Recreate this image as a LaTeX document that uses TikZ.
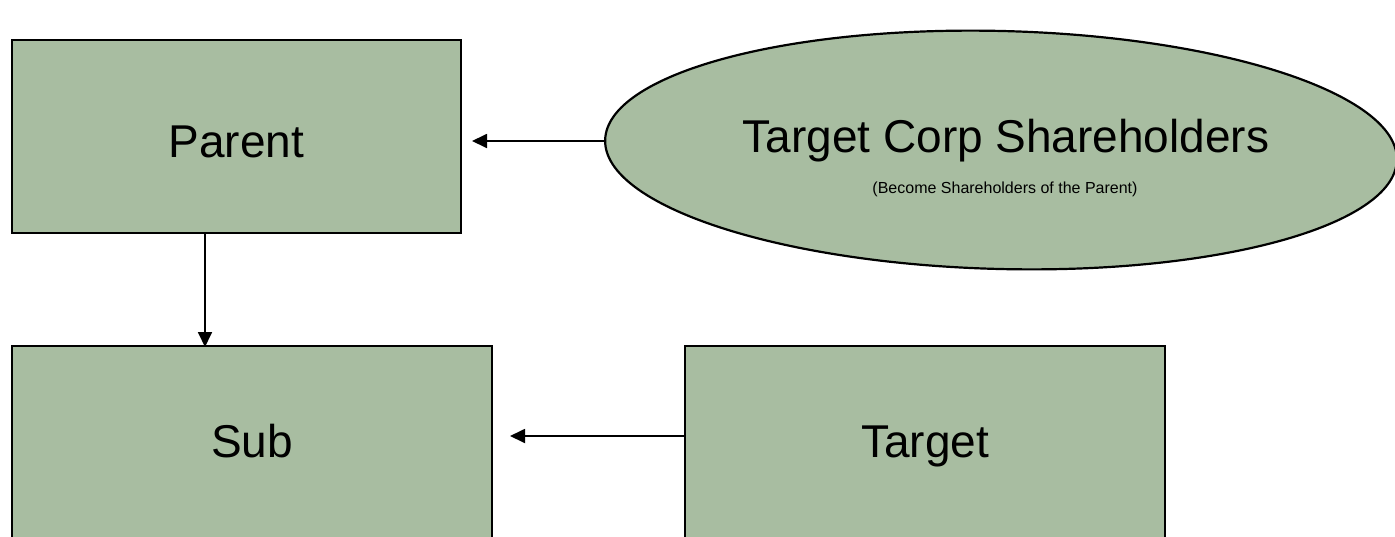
\documentclass[tikz,border=0pt]{standalone}
\usepackage{fontspec}
\setmainfont{Liberation Sans}
\usetikzlibrary{arrows.meta,shapes.geometric}
\definecolor{boxgreen}{RGB}{168,189,161}
\begin{document}
\begin{tikzpicture}[x=1pt,y=-1pt,
  box/.style={draw=black,line width=2.8pt,fill=boxgreen,inner sep=0pt,text depth=0pt,text height=30pt,font=\fontsize{46}{50}\selectfont},
  arr/.style={line width=1.8pt,-{Triangle[length=15pt,width=14pt]}}]
\useasboundingbox (0,0) rectangle (1395,536);
\node[box,minimum width=449pt,minimum height=193pt,text height=42pt] (parent) at (236.5,136.5) {Parent};
\node[box,minimum width=480pt,minimum height=192pt] (sub) at (252,442) {Sub};
\node[box,minimum width=480pt,minimum height=192pt] (target) at (925,442) {Target};
\node[ellipse,draw=black,line width=2.2pt,fill=boxgreen,minimum width=792pt,minimum height=238pt,inner sep=0pt,rotate=-1.45] (tcs) at (1001,150) {};
\node[font=\fontsize{46}{50}\selectfont] (tcst) at (1006,141) {Target Corp Shareholders};
\node[font=\fontsize{16}{18}\selectfont] (tcss) at (1005,189) {(Become Shareholders of the Parent)};
\coordinate (a1) at (472,141);
\coordinate (a2) at (510,436);
\draw[arr] (tcs.west |- a1) -- (a1);
\draw[arr] (parent.south -| 205,0) -- (205,347);
\draw[arr] (target.west |- a2) -- (a2);
\end{tikzpicture}
\end{document}
